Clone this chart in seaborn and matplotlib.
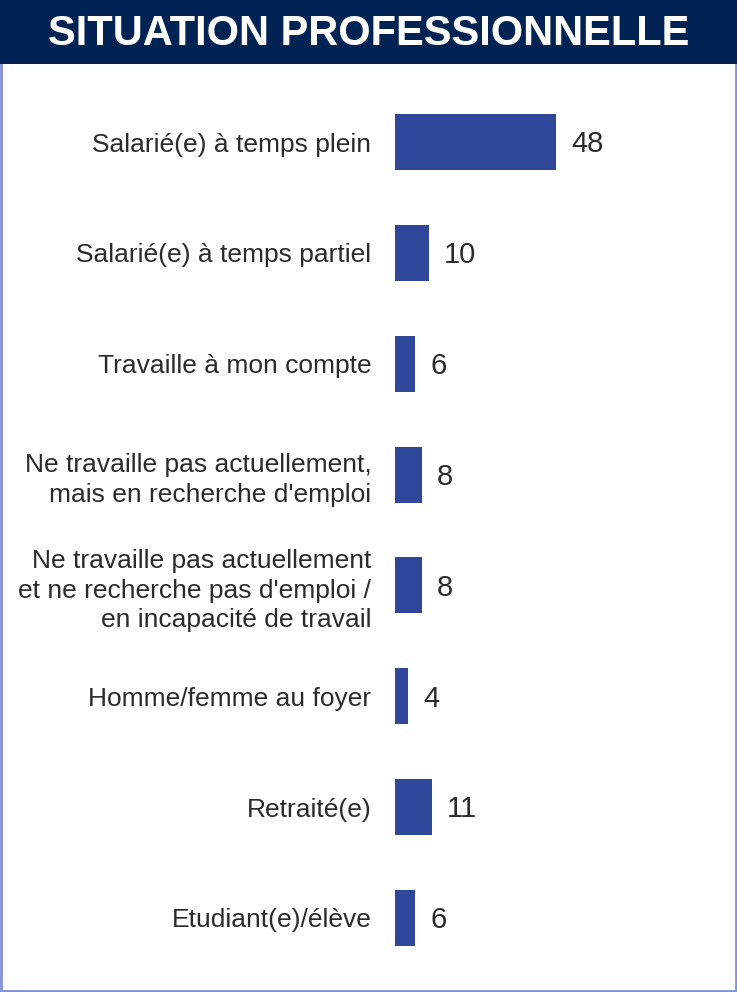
import matplotlib
matplotlib.use("Agg")
import matplotlib.pyplot as plt
import seaborn as sns
import pandas as pd
from matplotlib.patches import Rectangle

categories = [
    "Salarié(e) à temps plein",
    "Salarié(e) à temps partiel",
    "Travaille à mon compte",
    "Ne travaille pas actuellement,\nmais en recherche d'emploi",
    "Ne travaille pas actuellement\net ne recherche pas d'emploi /\nen incapacité de travail",
    "Homme/femme au foyer",
    "Retraité(e)",
    "Etudiant(e)/élève",
]
values = [48, 10, 6, 8, 8, 4, 11, 6]
title = "SITUATION PROFESSIONNELLE"

sns.set_theme(style="white")
plt.rcParams["font.family"] = ["Liberation Sans", "DejaVu Sans"]

W, H = 737, 992
fig = plt.figure(figsize=(W / 100, H / 100), dpi=100)
fig.patch.set_facecolor("white")

# panel border
fig.add_artist(Rectangle((1 / W, 1 / H), (W - 2) / W, (H - 2) / H,
                         transform=fig.transFigure, fill=False,
                         edgecolor="#7f90dc", linewidth=2.0))
# header band
fig.add_artist(Rectangle((0, (H - 64) / H), 1, 64 / H,
                         transform=fig.transFigure, facecolor="#002353",
                         edgecolor="none"))
fig.text(0.5, (H - 34) / H, title, ha="center", va="center",
         color="white", fontsize=30, fontweight="heavy")

ax = fig.add_axes([395 / W, (H - 973.4) / H, 335 / W, (973.4 - 86.6) / H])
df = pd.DataFrame({"cat": categories, "val": values})
sns.barplot(data=df, x="val", y="cat", orient="h", color="#2f4699",
            width=0.505, saturation=1, linewidth=0, ax=ax)
ax.set_xlim(0, 100)
ax.set_ylim(7.5, -0.5)
ax.set_xlabel("")
ax.set_ylabel("")
ax.set_xticks([])
for s in ax.spines.values():
    s.set_visible(False)
ax.tick_params(axis="y", length=0, pad=17)
for t in ax.get_yticklabels():
    t.set_fontsize(19)
    t.set_color("#2b2b2b")
    t.set_ha("right")
    t.set_multialignment("right")
    t.set_linespacing(1.29)
ax.set_facecolor("none")

for i, v in enumerate(values):
    ax.annotate(str(v), (v, i), xytext=(11, 0.5), textcoords="offset points",
                ha="left", va="center_baseline", fontsize=21, color="#2b2b2b")

fig.savefig("out.png", dpi=100)
